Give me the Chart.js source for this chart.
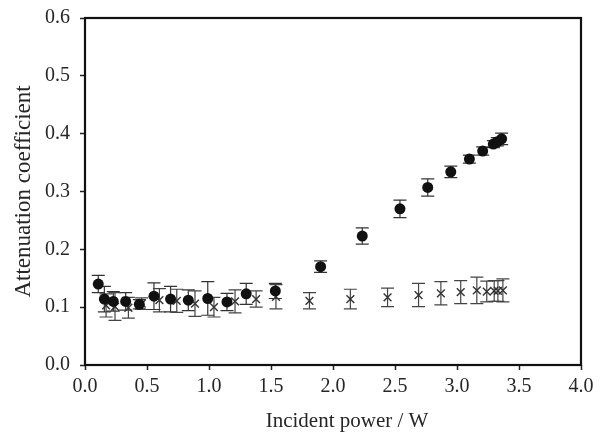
<!DOCTYPE html>
<html>
<head>
<meta charset="utf-8">
<script src="https://cdn.jsdelivr.net/npm/chart.js@4/dist/chart.umd.min.js"></script>
<style>
  html, body { margin: 0; padding: 0; background: #fff; }
  #wrap { width: 605px; height: 432px; }
</style>
</head>
<body>
<div id="wrap"><canvas id="chart" width="605" height="432"></canvas></div>
<script>
// Filled circles: attenuation coefficient vs incident power, with error
const circlePower = [0.107, 0.156, 0.228, 0.328, 0.438, 0.556, 0.69, 0.833, 0.99, 1.145, 1.30, 1.535,
                     1.90, 2.236, 2.54, 2.764, 2.95, 3.10, 3.207, 3.293, 3.325, 3.36];
const circleAtten = [0.140, 0.114, 0.110, 0.110, 0.105, 0.119, 0.114, 0.112, 0.115, 0.109, 0.123, 0.128,
                     0.170, 0.223, 0.270, 0.307, 0.334, 0.356, 0.370, 0.382, 0.386, 0.391];
const circleErr   = [0.015, 0.022, 0.017, 0.015, 0.008, 0.023, 0.022, 0.018, 0.029, 0.015, 0.018, 0.013,
                     0.010, 0.014, 0.015, 0.015, 0.010, 0.007, 0.007, 0.006, 0.007, 0.010];

// Crosses: second series, stays flat
const crossPower = [0.17, 0.242, 0.35, 0.457, 0.60, 0.74, 0.887, 1.04, 1.21, 1.38, 1.54,
                    1.81, 2.14, 2.44, 2.69, 2.87, 3.03, 3.16, 3.24, 3.30, 3.33, 3.37];
const crossAtten = [0.103, 0.101, 0.099, 0.106, 0.112, 0.111, 0.106, 0.100, 0.110, 0.114, 0.118,
                    0.111, 0.114, 0.117, 0.121, 0.124, 0.126, 0.129, 0.127, 0.128, 0.128, 0.129];
const crossErr   = [0.020, 0.024, 0.018, 0.010, 0.020, 0.020, 0.022, 0.017, 0.020, 0.014, 0.021,
                    0.014, 0.017, 0.016, 0.020, 0.020, 0.020, 0.023, 0.018, 0.018, 0.018, 0.020];

const xTicks = [0, 0.5, 1.0, 1.5, 2.0, 2.5, 3.0, 3.5, 4.0];
const yTicks = [0, 0.1, 0.2, 0.3, 0.4, 0.5, 0.6];

const X_TITLE = "Incident power / W";
const Y_TITLE = "Attenuation coefficient";

const FONT = "'Liberation Serif', 'DejaVu Serif', serif";
const TEXT = "#262626";

function toPoints(xs, ys) {
    return xs.map((x, i) => ({ x, y: ys[i] }));
}

// error bars with caps, drawn under the markers
const errorBars = {
    id: "errorBars",
    beforeDatasetsDraw(chart) {
        const { ctx, scales: { x, y } } = chart;
        ctx.save();
        chart.data.datasets.forEach(ds => {
            if (!ds.errors) return;
            ctx.strokeStyle = ds.errColor;
            ctx.lineWidth = 1.2;
            ds.data.forEach((p, i) => {
                const px = x.getPixelForValue(p.x);
                const top = y.getPixelForValue(p.y + ds.errors[i]);
                const bot = y.getPixelForValue(p.y - ds.errors[i]);
                ctx.beginPath();
                ctx.moveTo(px, top); ctx.lineTo(px, bot);
                ctx.moveTo(px - 6.5, top); ctx.lineTo(px + 6.5, top);
                ctx.moveTo(px - 6.5, bot); ctx.lineTo(px + 6.5, bot);
                ctx.stroke();
            });
        });
        ctx.restore();
    },
};

// closed frame round the plot area, plus the x title which sits a bit
// right of centre in the original
const frame = {
    id: "frame",
    afterDraw(chart) {
        const { ctx, chartArea: a } = chart;
        ctx.save();
        ctx.strokeStyle = "#111";
        ctx.lineWidth = 2.2;
        ctx.strokeRect(a.left, a.top, a.right - a.left, a.bottom - a.top);

        ctx.fillStyle = TEXT;
        ctx.font = `21px ${FONT}`;
        ctx.textAlign = "center";
        ctx.textBaseline = "middle";
        ctx.fillText(X_TITLE, (a.left + a.right) / 2 + 14, a.bottom + 56);
        ctx.restore();
    },
};

new Chart(document.getElementById("chart"), {
    type: "scatter",
    data: {
        datasets: [
            {
                label: "circles",
                data: toPoints(circlePower, circleAtten),
                errors: circleErr,
                errColor: "#333",
                pointStyle: "circle",
                pointRadius: 5.5,
                backgroundColor: "#111",
                borderColor: "#111",
                borderWidth: 0,
            },
            {
                label: "crosses",
                data: toPoints(crossPower, crossAtten),
                errors: crossErr,
                errColor: "#444",
                pointStyle: "crossRot",
                pointRadius: 5.5,
                borderColor: "#333",
                borderWidth: 1.4,
            },
        ],
    },
    options: {
        responsive: false,
        animation: false,
        layout: { padding: { top: 18, right: 24, left: 10, bottom: 0 } },
        plugins: {
            legend: { display: false },
            tooltip: { enabled: false },
        },
        scales: {
            x: {
                type: "linear",
                min: 0, max: 4,
                afterBuildTicks: s => { s.ticks = xTicks.map(v => ({ value: v })); },
                afterFit: s => { s.height = 67; s.paddingLeft = 0; s.paddingRight = 0; },
                ticks: {
                    color: TEXT,
                    font: { family: FONT, size: 20 },
                    padding: 5,
                    callback: v => v.toFixed(1),
                },
                grid: { drawOnChartArea: false, drawTicks: true, tickLength: 5, color: "#222", tickWidth: 1.5 },
                border: { display: false },
                title: { display: false },
            },
            y: {
                type: "linear",
                min: 0, max: 0.6,
                afterBuildTicks: s => { s.ticks = yTicks.map(v => ({ value: v })); },
                afterFit: s => { s.width = 75; s.paddingTop = 0; s.paddingBottom = 0; },
                ticks: {
                    color: TEXT,
                    font: { family: FONT, size: 20 },
                    padding: 10,
                    callback: v => v.toFixed(1),
                },
                grid: { drawOnChartArea: false, drawTicks: true, tickLength: 5, color: "#222", tickWidth: 1.5 },
                border: { display: false },
                title: {
                    display: true,
                    text: Y_TITLE,
                    color: TEXT,
                    font: { family: FONT, size: 23 },
                    padding: { top: 0, bottom: 0 },
                },
            },
        },
    },
    plugins: [errorBars, frame],
});
</script>
</body>
</html>
